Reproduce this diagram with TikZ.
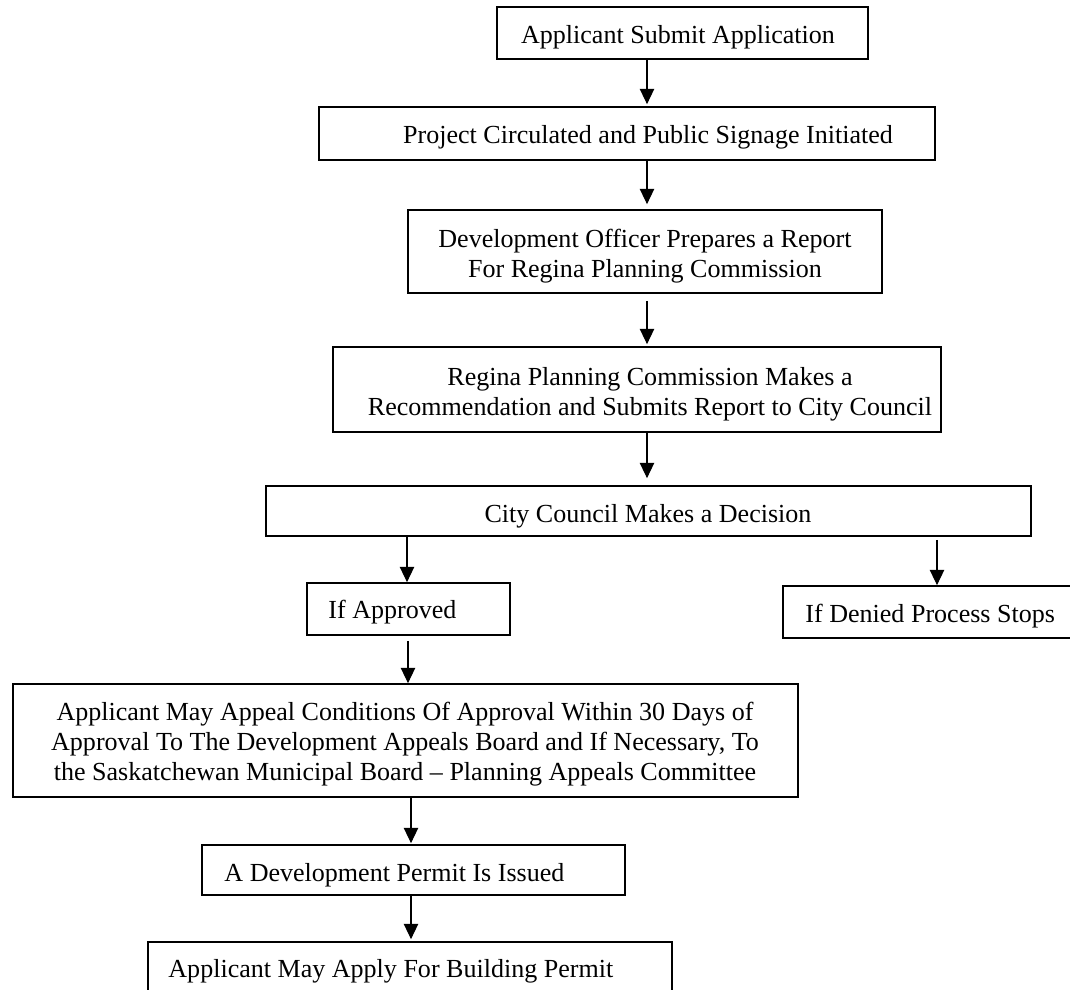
\documentclass[tikz,border=0pt]{standalone}
\usepackage{fontspec}
\setmainfont{Liberation Serif}
\usetikzlibrary{arrows.meta}
\def\pxunit{0.4608pt}
\begin{document}
\begin{tikzpicture}[x=0.4608pt,y=-0.4608pt,
  box/.style={draw, line width=0.8pt, inner sep=0pt},
  txt/.style={font=\fontsize{12}{13.82}\selectfont, inner sep=0pt, align=center},
  arr/.style={line width=0.5pt, -{Triangle[length=7pt,width=6.6pt]}}]
\useasboundingbox (0,0) rectangle (1070,989);
\clip (0,0) rectangle (1070,989);
% boxes
\node[box, minimum width=371*\pxunit, minimum height=52*\pxunit] (b1) at (682.5,33) {};
\node[box, minimum width=616*\pxunit, minimum height=53*\pxunit] (b2) at (627,133.5) {};
\node[box, minimum width=474*\pxunit, minimum height=83*\pxunit] (b3) at (645,251.5) {};
\node[box, minimum width=608*\pxunit, minimum height=85*\pxunit] (b4) at (637,389.5) {};
\node[box, minimum width=765*\pxunit, minimum height=50*\pxunit] (b5) at (648.5,511) {};
\node[box, minimum width=203*\pxunit, minimum height=52*\pxunit] (b6) at (408.5,609) {};
\node[box, minimum width=297*\pxunit, minimum height=52*\pxunit] (b7) at (931.5,612) {};
\node[box, minimum width=785*\pxunit, minimum height=113*\pxunit] (b8) at (405.5,740.5) {};
\node[box, minimum width=423*\pxunit, minimum height=50*\pxunit] (b9) at (413.5,870) {};
\node[box, minimum width=524*\pxunit, minimum height=68*\pxunit] (b10) at (410,976) {};
% texts (multi-line: base anchor is the last line's baseline)
\node[txt, anchor=base] (t1) at (678,43) {Applicant Submit Application};
\node[txt, anchor=base] (t2) at (648,143) {Project Circulated and Public Signage Initiated};
\node[txt, anchor=base] (t3) at (645,277) {Development Officer Prepares a Report\\For Regina Planning Commission};
\node[txt, anchor=base] (t4) at (650,415) {Regina Planning Commission Makes a\\Recommendation and Submits Report to City Council};
\node[txt, anchor=base] (t5) at (648,522) {City Council Makes a Decision};
\node[txt, anchor=base west] (t6) at (328,618) {If Approved};
\node[txt, anchor=base west] (t7) at (805,622) {If Denied Process Stops};
\node[txt, anchor=base] (t8) at (405,780) {Applicant May Appeal Conditions Of Approval Within 30 Days of\\Approval To The Development Appeals Board and If Necessary, To\\the Saskatchewan Municipal Board -- Planning Appeals Committee};
\node[txt, anchor=base west] (t9) at (224,881) {A Development Permit Is Issued};
\node[txt, anchor=base west] (t10) at (168,977) {Applicant May Apply For Building Permit};
% arrow columns
\coordinate (xm) at (647,0);
\coordinate (xl) at (407,0);
\coordinate (xr) at (937,0);
\coordinate (xa) at (408,0);
\coordinate (xb) at (411,0);
% connectors
\draw[arr, shorten >=2*\pxunit] (b1.south -| xm) -- (b2.north -| xm);
\draw[arr, shorten >=5*\pxunit] (b2.south -| xm) -- (b3.north -| xm);
\draw[arr, shorten <=7*\pxunit, shorten >=2*\pxunit] (b3.south -| xm) -- (b4.north -| xm);
\draw[arr, shorten >=7*\pxunit] (b4.south -| xm) -- (b5.north -| xm);
\draw[arr] (b5.south -| xl) -- (b6.north -| xl);
\draw[arr, shorten <=3*\pxunit] (b5.south -| xr) -- (b7.north -| xr);
\draw[arr, shorten <=5*\pxunit] (b6.south -| xa) -- (b8.north -| xa);
\draw[arr, shorten >=1*\pxunit] (b8.south -| xb) -- (b9.north -| xb);
\draw[arr, shorten >=2*\pxunit] (b9.south -| xb) -- (b10.north -| xb);
\end{tikzpicture}
\end{document}
